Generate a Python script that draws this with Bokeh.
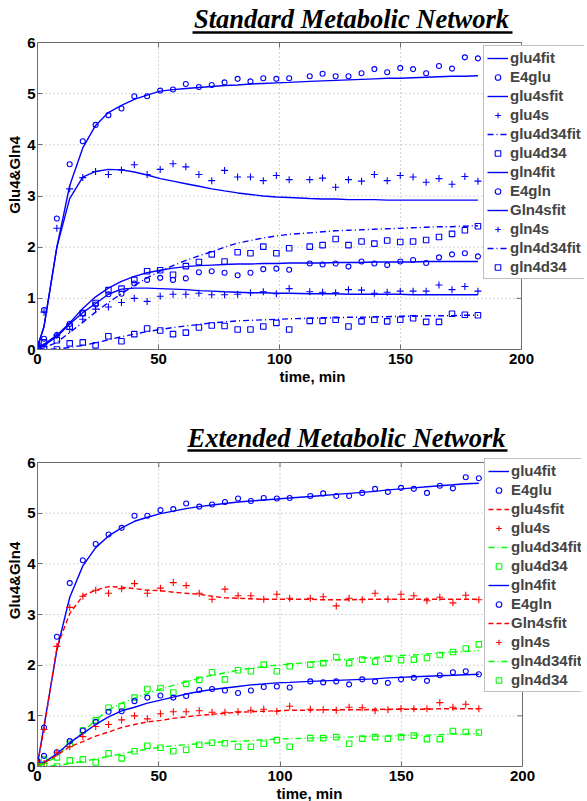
from bokeh.plotting import figure
from bokeh.models import (Legend, LegendItem, Label, Arrow, FixedTicker, Range1d,
                          GlobalInlineStyleSheet)
from bokeh.layouts import column
from bokeh.embed import file_html
from bokeh.resources import INLINE

# ---------------- data ----------------
t = [0, 2.7, 8, 13.3, 18.7, 24, 29.3, 34.7, 40, 45.3, 50.7, 56, 61.3, 66.7, 72,
     77.3, 82.7, 88, 93.3, 98.7, 104, 112.5, 117.8, 123.2, 128.5, 133.9, 139.2,
     144.5, 149.9, 155.2, 160.6, 165.9, 171.3, 176.6, 182]

E4glu = [0.09, 0.77, 2.56, 3.62, 4.07, 4.39, 4.58, 4.71, 4.95, 4.95, 5.06, 5.08,
         5.19, 5.13, 5.17, 5.22, 5.29, 5.24, 5.30, 5.29, 5.30, 5.34, 5.39, 5.34,
         5.34, 5.40, 5.48, 5.42, 5.50, 5.48, 5.40, 5.54, 5.49, 5.71, 5.69]
glu4s = [0.06, 0.73, 2.37, 3.14, 3.36, 3.48, 3.42, 3.51, 3.61, 3.42, 3.52, 3.63,
         3.57, 3.42, 3.30, 3.50, 3.37, 3.37, 3.30, 3.40, 3.32, 3.32, 3.35, 3.17,
         3.32, 3.29, 3.42, 3.30, 3.40, 3.37, 3.27, 3.34, 3.23, 3.38, 3.29]
glu4d34 = [0.0, 0.14, 0.18, 0.45, 0.71, 0.91, 1.16, 1.19, 1.36, 1.53, 1.55, 1.46,
           1.63, 1.71, 1.86, 1.72, 1.90, 1.88, 2.01, 1.88, 1.98, 2.01, 2.04, 2.16,
           2.04, 2.11, 2.07, 2.13, 2.10, 2.11, 2.14, 2.20, 2.26, 2.33, 2.41]
E4gln = [0.11, 0.21, 0.28, 0.50, 0.71, 0.88, 1.08, 1.09, 1.29, 1.36, 1.40, 1.36,
         1.39, 1.51, 1.53, 1.50, 1.45, 1.50, 1.57, 1.58, 1.56, 1.68, 1.66, 1.68,
         1.62, 1.72, 1.68, 1.65, 1.72, 1.75, 1.69, 1.80, 1.86, 1.88, 1.82]
gln4s = [0.03, 0.06, 0.28, 0.39, 0.59, 0.79, 0.83, 0.92, 1.00, 0.94, 1.04, 1.08,
         1.08, 1.10, 1.07, 1.07, 1.08, 1.11, 1.13, 1.09, 1.19, 1.13, 1.12, 1.11,
         1.17, 1.16, 1.10, 1.12, 1.14, 1.14, 1.14, 1.26, 1.17, 1.23, 1.14]
gln4d34 = [0.0, 0.0, 0.0, 0.12, 0.14, 0.08, 0.26, 0.16, 0.30, 0.41, 0.37, 0.30,
           0.33, 0.43, 0.47, 0.46, 0.39, 0.39, 0.45, 0.52, 0.39, 0.56, 0.56, 0.58,
           0.45, 0.55, 0.58, 0.55, 0.58, 0.61, 0.54, 0.54, 0.70, 0.68, 0.67]

# standard network fits
std_glu4fit = [0.05, 0.45, 2.0, 3.2, 3.94, 4.38, 4.63, 4.77, 4.89, 4.97, 5.05, 5.08,
               5.10, 5.12, 5.14, 5.16, 5.17, 5.19, 5.20, 5.21, 5.22, 5.24, 5.25, 5.26,
               5.27, 5.28, 5.29, 5.30, 5.30, 5.31, 5.32, 5.33, 5.34, 5.34, 5.35]
std_glu4sfit = [0.05, 0.45, 2.0, 2.95, 3.37, 3.48, 3.52, 3.51, 3.47, 3.41, 3.34, 3.29,
                3.24, 3.19, 3.14, 3.10, 3.06, 3.03, 3.00, 2.98, 2.97, 2.95, 2.94, 2.94,
                2.93, 2.93, 2.93, 2.92, 2.92, 2.92, 2.92, 2.92, 2.92, 2.92, 2.92]
std_glu4d34fit = [0.0, 0.03, 0.14, 0.33, 0.53, 0.73, 0.92, 1.09, 1.25, 1.40, 1.53, 1.64,
                  1.74, 1.83, 1.91, 2.00, 2.08, 2.13, 2.18, 2.22, 2.25, 2.28, 2.30, 2.32,
                  2.33, 2.34, 2.35, 2.36, 2.37, 2.38, 2.39, 2.40, 2.40, 2.41, 2.42]
std_gln4fit = [0.05, 0.10, 0.28, 0.52, 0.80, 1.03, 1.20, 1.33, 1.43, 1.50, 1.55, 1.59,
               1.62, 1.64, 1.65, 1.66, 1.67, 1.67, 1.68, 1.68, 1.69, 1.69, 1.69, 1.70,
               1.70, 1.70, 1.71, 1.71, 1.71, 1.71, 1.72, 1.72, 1.72, 1.72, 1.72]
std_gln4sfit = [0.05, 0.08, 0.25, 0.50, 0.72, 0.90, 1.08, 1.18, 1.20, 1.20, 1.19, 1.18,
                1.17, 1.15, 1.14, 1.13, 1.12, 1.11, 1.11, 1.10, 1.10, 1.09, 1.09, 1.09,
                1.08, 1.08, 1.08, 1.08, 1.08, 1.07, 1.07, 1.07, 1.07, 1.07, 1.07]
std_gln4d34fit = [0.0, 0.0, 0.01, 0.04, 0.08, 0.13, 0.19, 0.25, 0.30, 0.35, 0.39, 0.43,
                  0.46, 0.49, 0.52, 0.54, 0.56, 0.57, 0.58, 0.59, 0.60, 0.61, 0.62, 0.62,
                  0.63, 0.63, 0.64, 0.64, 0.65, 0.65, 0.66, 0.66, 0.66, 0.67, 0.67]

# extended network fits
ext_glu4fit = [0.05, 0.8, 2.3, 3.34, 3.96, 4.32, 4.55, 4.71, 4.84, 4.92, 4.99, 5.04,
               5.09, 5.13, 5.16, 5.19, 5.22, 5.24, 5.26, 5.28, 5.30, 5.33, 5.35, 5.37,
               5.39, 5.41, 5.43, 5.46, 5.48, 5.50, 5.52, 5.54, 5.56, 5.58, 5.59]
ext_glu4sfit = [0.05, 0.75, 2.35, 3.02, 3.37, 3.48, 3.55, 3.54, 3.51, 3.48, 3.47, 3.44,
                3.42, 3.40, 3.36, 3.33, 3.32, 3.31, 3.30, 3.30, 3.30, 3.30, 3.29, 3.29,
                3.29, 3.30, 3.30, 3.30, 3.30, 3.30, 3.30, 3.30, 3.30, 3.30, 3.30]
ext_glu4d34fit = [0.0, 0.05, 0.2, 0.45, 0.68, 0.92, 1.12, 1.25, 1.35, 1.44, 1.53, 1.60,
                  1.67, 1.74, 1.80, 1.85, 1.90, 1.94, 1.97, 2.00, 2.02, 2.06, 2.08, 2.10,
                  2.12, 2.14, 2.15, 2.17, 2.19, 2.20, 2.22, 2.24, 2.26, 2.27, 2.29]
ext_gln4fit = [0.05, 0.08, 0.25, 0.47, 0.65, 0.83, 0.98, 1.10, 1.17, 1.25, 1.31, 1.37,
               1.43, 1.48, 1.52, 1.55, 1.58, 1.61, 1.63, 1.65, 1.66, 1.68, 1.69, 1.70,
               1.71, 1.72, 1.73, 1.75, 1.76, 1.77, 1.78, 1.79, 1.80, 1.81, 1.82]
ext_gln4sfit = [0.05, 0.07, 0.22, 0.39, 0.49, 0.60, 0.68, 0.77, 0.83, 0.88, 0.91, 0.95,
                0.98, 1.01, 1.03, 1.05, 1.07, 1.08, 1.09, 1.10, 1.11, 1.11, 1.12, 1.12,
                1.12, 1.12, 1.13, 1.13, 1.13, 1.13, 1.13, 1.14, 1.14, 1.14, 1.14]
ext_gln4d34fit = [0.0, 0.0, 0.02, 0.06, 0.10, 0.15, 0.20, 0.25, 0.30, 0.34, 0.38, 0.41,
                  0.43, 0.45, 0.47, 0.49, 0.50, 0.51, 0.53, 0.54, 0.55, 0.56, 0.57, 0.58,
                  0.58, 0.59, 0.60, 0.60, 0.61, 0.62, 0.62, 0.63, 0.64, 0.64, 0.65]

x_ticks = [0, 50, 100, 150, 200]
y_ticks = [0, 1, 2, 3, 4, 5, 6]
legend_labels = ["glu4fit", "E4glu", "glu4sfit", "glu4s", "glu4d34fit", "glu4d34",
                 "gln4fit", "E4gln", "Gln4sfit", "gln4s", "gln4d34fit", "gln4d34"]

BLUE, RED, GREEN = "#0000ff", "#ff0000", "#00ff00"
AXC = "#6e6e6e"
GRIDC = "#a8a8a8"
SANS = "Liberation Sans"
FIG_W = 581


def build(title, fits, fit_colors, fit_dashes, mk_colors, left, frame_h, gap_top,
          plot_w, bottom_border, legend_xy, title_xy, uline):
    frame_w = FIG_W - left
    x0, x1 = x_ticks[0], x_ticks[-1]
    y0, y1 = y_ticks[0], y_ticks[-1]
    px_x = plot_w / (x1 - x0)
    px_y = (frame_h - gap_top) / (y1 - y0)
    p = figure(frame_width=frame_w, frame_height=frame_h,
               x_range=Range1d(x0, x0 + frame_w / px_x),
               y_range=Range1d(y0, y0 + frame_h / px_y),
               output_backend="svg", toolbar_location=None,
               min_border_left=left, min_border_right=0, min_border_top=0,
               min_border_bottom=bottom_border, background_fill_color="white",
               border_fill_color="white", outline_line_color=None)
    p.xgrid.visible = False
    p.ygrid.visible = False
    p.xaxis.ticker = FixedTicker(ticks=x_ticks)
    p.yaxis.ticker = FixedTicker(ticks=y_ticks)
    p.xaxis.bounds = (x0, x1)
    p.yaxis.bounds = (y0, y1)
    p.xaxis.axis_label = "time, min"
    p.yaxis.axis_label = "Glu4&Gln4"
    for ax in p.xaxis + p.yaxis:
        ax.axis_line_color = AXC
        ax.major_tick_line_color = AXC
        ax.major_tick_in = 5
        ax.major_tick_out = 0
        ax.minor_tick_line_color = None
        ax.major_label_text_font = SANS
        ax.major_label_text_font_style = "bold"
        ax.major_label_text_font_size = "15px"
        ax.major_label_text_color = "black"
        ax.axis_label_text_font = SANS
        ax.axis_label_text_font_style = "bold"
        ax.axis_label_text_font_size = "15px"
        ax.axis_label_text_color = "black"
    p.xaxis.major_label_standoff = 4
    p.xaxis.axis_label_standoff = 1
    p.yaxis.major_label_standoff = 2
    p.yaxis.axis_label_standoff = 1

    # dotted grid and the remaining box sides, drawn from the tick lists
    p.multi_line([[x, x] for x in x_ticks[1:-1]], [[y0, y1]] * (len(x_ticks) - 2),
                 line_color=GRIDC, line_dash="1 3", line_width=1, level="underlay")
    p.multi_line([[x0, x1]] * (len(y_ticks) - 2), [[y, y] for y in y_ticks[1:-1]],
                 line_color=GRIDC, line_dash="1 3", line_width=1, level="underlay")
    p.line([x0, x1], [y1, y1], line_color=AXC, line_width=1)
    p.line([x1, x1], [y0, y1], line_color=AXC, line_width=1)
    tx = 5 / px_x
    ty = 5 / px_y
    p.segment(x0=[x1 - tx] * len(y_ticks), x1=[x1] * len(y_ticks), y0=y_ticks, y1=y_ticks,
              line_color=AXC, line_width=1)
    p.segment(x0=x_ticks, x1=x_ticks, y0=[y1 - ty] * len(x_ticks), y1=[y1] * len(x_ticks),
              line_color=AXC, line_width=1)

    data = [E4glu, glu4s, glu4d34, E4gln, gln4s, gln4d34]
    markers = ["circle", "cross", "square", "circle", "cross", "square"]
    sizes = [5, 7, 5.5, 5, 7, 5.5]
    renderers = []
    for i in range(6):
        lr = p.line(t, fits[i], line_color=fit_colors[i], line_width=1.4,
                    line_dash=fit_dashes[i])
        sr = p.scatter(t, data[i], marker=markers[i], size=sizes[i],
                       fill_color=None, line_color=mk_colors[i], line_width=1.1)
        renderers += [lr, sr]
    items = [LegendItem(label=lab, renderers=[r]) for lab, r in zip(legend_labels, renderers)]
    leg = Legend(items=items, location=legend_xy, label_text_font=SANS,
                 label_text_font_style="bold", label_text_font_size="15px",
                 glyph_width=21, glyph_height=14, label_height=14, spacing=2,
                 padding=3, margin=0, label_standoff=2,
                 border_line_color="#808080", border_line_width=1,
                 background_fill_color="white", background_fill_alpha=1)
    p.add_layout(leg, "center")

    p.add_layout(Label(x=title_xy[0], y=title_xy[1], x_units="screen", y_units="screen",
                       text=title, text_font="Liberation Serif",
                       text_font_style="bold italic", text_font_size="26.5px",
                       text_align="center", text_baseline="middle", text_color="black"))
    p.add_layout(Arrow(end=None, x_start=uline[0], x_end=uline[1], y_start=uline[2],
                       y_end=uline[2], start_units="screen", end_units="screen",
                       line_color="black", line_width=2.5))
    return p


# top panel: page y 1..350 frame, y=6 at page 43; x: 0 at page 37, 200 at 521
p1 = build("Standard Metabolic Network",
           [std_glu4fit, std_glu4sfit, std_glu4d34fit, std_gln4fit, std_gln4sfit, std_gln4d34fit],
           [BLUE] * 6, ["solid", "solid", "6 3 1 3", "solid", "solid", "6 3 1 3"],
           [BLUE] * 6, left=31, frame_h=349, gap_top=42, plot_w=484, bottom_border=45,
           legend_xy=(449, 70), title_xy=(314, 331), uline=(155, 475, 317))

# bottom panel: page y 395..767 frame, y=6 at page 463; x: 0 at page 43, 200 at 528
p2 = build("Extended Metabolic Network",
           [ext_glu4fit, ext_glu4sfit, ext_glu4d34fit, ext_gln4fit, ext_gln4sfit, ext_gln4d34fit],
           [BLUE, RED, GREEN, BLUE, RED, GREEN],
           ["solid", "5 3", "6 3 1 3", "solid", "5 3", "6 3 1 3"],
           [BLUE, RED, GREEN, BLUE, RED, GREEN], left=37, frame_h=372, gap_top=68,
           plot_w=485, bottom_border=30, legend_xy=(447, 74), title_xy=(309, 329),
           uline=(150, 470, 316))

layout = column(p1, p2, spacing=0,
                stylesheets=[GlobalInlineStyleSheet(css="html, body { overflow: hidden; }")])
open("out.html", "w").write(file_html(layout, INLINE))
